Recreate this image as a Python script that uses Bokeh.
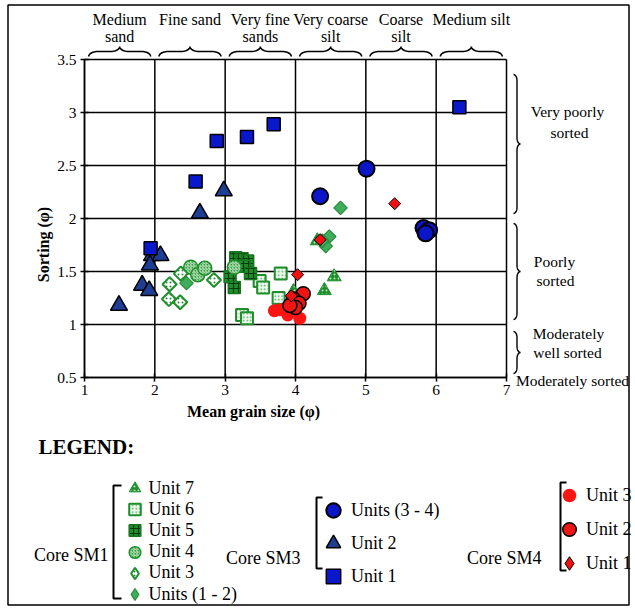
import numpy as np
from bokeh.plotting import figure
from bokeh.models import (Range1d, FixedTicker, NumeralTickFormatter, Label,
                          PolyAnnotation, Legend, LegendItem)
from bokeh.embed import file_html
from bokeh.resources import INLINE

# ---------------- data: mean grain size (phi) vs sorting (phi) ----------------
sm1_u7_x = [3.97, 4.41, 4.55, 4.31]
sm1_u7_y = [1.31, 1.32, 1.45, 1.79]
sm1_u6_x = [3.79, 3.49, 3.54, 3.76, 3.24, 3.31]
sm1_u6_y = [1.48, 1.41, 1.35, 1.25, 1.09, 1.06]
sm1_u5_x = [3.15, 3.24, 3.32, 3.27, 3.36, 3.07, 3.13]
sm1_u5_y = [1.63, 1.62, 1.60, 1.55, 1.48, 1.45, 1.35]
sm1_u4_x = [2.51, 2.61, 2.71, 3.13]
sm1_u4_y = [1.54, 1.47, 1.53, 1.54]
sm1_u3_x = [2.37, 2.21, 2.20, 2.36, 2.84]
sm1_u3_y = [1.48, 1.38, 1.24, 1.21, 1.42]
sm1_u12_x = [2.45, 4.64, 4.48, 4.43, 4.38]
sm1_u12_y = [1.39, 2.10, 1.83, 1.74, 1.79]

sm3_u34_x = [4.35, 5.01, 5.82, 5.90, 5.85]
sm3_u34_y = [2.21, 2.47, 1.91, 1.89, 1.86]
sm3_u2_x = [2.98, 2.64, 1.96, 2.08, 1.93, 1.82, 1.92, 1.49]
sm3_u2_y = [2.26, 2.05, 1.65, 1.65, 1.56, 1.37, 1.32, 1.18]
sm3_u1_x = [2.88, 3.31, 3.69, 6.33, 2.58, 1.94]
sm3_u1_y = [2.73, 2.77, 2.89, 3.05, 2.35, 1.72]

sm4_u3_x = [3.70, 3.78, 3.89, 4.06]
sm4_u3_y = [1.13, 1.14, 1.09, 1.06]
sm4_u2_x = [4.11, 3.97, 4.05, 4.00, 3.92]
sm4_u2_y = [1.29, 1.24, 1.20, 1.16, 1.18]
sm4_u1_x = [5.41, 4.35, 4.03, 3.94]
sm4_u1_y = [2.14, 1.80, 1.47, 1.27]

x_ticks = [1, 2, 3, 4, 5, 6, 7]
y_ticks = [0.5, 1, 1.5, 2, 2.5, 3, 3.5]
grain_classes = [["Medium", "sand"], ["Fine sand"], ["Very fine", "sands"],
                 ["Very coarse", "silt"], ["Coarse", "silt"], ["Medium silt"]]
sorting_classes = [["Very poorly", "sorted"], ["Poorly", "sorted"],
                   ["Moderately", "well sorted"], ["Moderately sorted"]]

# ---------------- layout constants (page pixels) ----------------
W, H = 635, 608
PL, PR, PT, PB = 84, 506, 59, 377          # plot box edges on the page
XMIN, XMAX = x_ticks[0], x_ticks[-1]
YMIN, YMAX = y_ticks[0], y_ticks[-1]
PXU = (PR - PL) / (XMAX - XMIN)
PYU = (PB - PT) / (YMAX - YMIN)

p = figure(width=W, height=H,
           x_range=Range1d(XMIN - PL / PXU, XMIN + (W - PL) / PXU),
           y_range=Range1d(YMIN - (H - PB) / PYU, YMIN + PB / PYU),
           output_backend="svg", toolbar_location=None,
           min_border=0, min_border_left=0, min_border_right=0,
           min_border_top=0, min_border_bottom=0)
p.background_fill_color = "white"
p.border_fill_color = "white"
p.outline_line_color = None
p.grid.visible = False

p.xaxis.ticker = FixedTicker(ticks=x_ticks)
p.yaxis.ticker = FixedTicker(ticks=y_ticks)
p.yaxis.formatter = NumeralTickFormatter(format="0.[0]")
p.xaxis.fixed_location = YMIN
p.yaxis.fixed_location = XMIN
p.xaxis.bounds = (XMIN, XMAX)
p.yaxis.bounds = (YMIN, YMAX)
for ax in (p.xaxis[0], p.yaxis[0]):
    ax.axis_line_color = "black"
    ax.axis_line_width = 1.5
    ax.major_tick_in = 4
    ax.major_tick_out = 4
    ax.major_tick_line_color = "black"
    ax.major_tick_line_width = 1.5
    ax.minor_tick_line_color = None
    ax.major_label_text_font = "Liberation Serif"
    ax.major_label_text_font_size = "15.5px"
    ax.major_label_text_color = "black"
p.xaxis.major_label_standoff = 3
p.yaxis.major_label_standoff = 4

# grid lines of the plot box, from the tick arrays
p.segment(x0=x_ticks, y0=[YMIN] * len(x_ticks), x1=x_ticks, y1=[YMAX] * len(x_ticks),
          line_color="black", line_width=1.5)
p.segment(x0=[XMIN] * len(y_ticks), y0=y_ticks, x1=[XMAX] * len(y_ticks), y1=y_ticks,
          line_color="black", line_width=1.5)

# ---------------- series ----------------
G = "#1f8f2c"
u7_style = dict(fill_color=G, line_color=G, hatch_pattern="dot", hatch_color="#bfe3bf",
                hatch_scale=4, hatch_weight=1)
u6_style = dict(fill_color="#eef8ee", line_color=G, line_width=2, hatch_pattern="dot",
                hatch_color="#4fae5a", hatch_scale=3.5, hatch_weight=1)
u5_style = dict(fill_color=G, line_color="#17761f", line_width=1.5, hatch_pattern="cross",
                hatch_color="#0b3a10", hatch_scale=5, hatch_weight=1.2)
u4_style = dict(fill_color="#38a043", line_color=G, line_width=1.5,
                hatch_pattern="right_diagonal_line", hatch_color="#c6e6c6", hatch_scale=3,
                hatch_weight=1)
u3_style = dict(fill_color="white", line_color=G, line_width=2, hatch_pattern="dot",
                hatch_color=G, hatch_scale=4, hatch_weight=1.2)
u12_style = dict(fill_color="#3fae5c", line_color="#2a8c3c", line_width=1.2)
s41_style = dict(fill_color="#f01010", line_color="black", line_width=1)

r_u7 = p.scatter(sm1_u7_x, sm1_u7_y, marker="triangle", size=14, **u7_style)
r_u6 = p.scatter(sm1_u6_x, sm1_u6_y, marker="square", size=12, **u6_style)
r_u5 = p.scatter(sm1_u5_x, sm1_u5_y, marker="square", size=12, **u5_style)
r_u4 = p.scatter(sm1_u4_x, sm1_u4_y, marker="circle", size=14, **u4_style)
r_u3 = p.scatter(sm1_u3_x, sm1_u3_y, marker="square", angle=np.pi / 4, size=10, **u3_style)
r_u12 = p.scatter(sm1_u12_x, sm1_u12_y, marker="square", angle=np.pi / 4, size=9.5, **u12_style)

r_s3_34 = p.scatter(sm3_u34_x, sm3_u34_y, marker="circle", size=16, fill_color="#0a16c8",
                    line_color="black", line_width=2)
r_s3_2 = p.scatter(sm3_u2_x, sm3_u2_y, marker="triangle", size=17, fill_color="#1d3e93",
                   line_color="black", line_width=1.5)
r_s3_1 = p.scatter(sm3_u1_x, sm3_u1_y, marker="square", size=13, fill_color="#0a18cc",
                   line_color="black", line_width=1.5)

r_s4_3 = p.scatter(sm4_u3_x, sm4_u3_y, marker="circle", size=13, fill_color="#ff1414", line_color=None)
r_s4_2 = p.scatter(sm4_u2_x, sm4_u2_y, marker="circle", size=14, fill_color="#f01515",
                   line_color="black", line_width=1.5)
r_s4_1 = p.scatter(sm4_u1_x, sm4_u1_y, marker="square", angle=np.pi / 4, size=8.5, **s41_style)

# legend-only keys for the diamond series (legend keys are drawn unrotated);
# a single NaN point keeps them invisible in the plot
k_u3 = p.scatter(x=[np.nan], y=[np.nan], marker="diamond", **u3_style)
k_u12 = p.scatter(x=[np.nan], y=[np.nan], marker="diamond", **u12_style)
k_s41 = p.scatter(x=[np.nan], y=[np.nan], marker="diamond", **s41_style)


# ---------------- annotation helpers (page pixel positions) ----------------
def txt(text, X, Y, size="16px", bold=False, align="center", angle=0.0, xdata=None):
    if xdata is None:
        xv, xu = X, "screen"
    else:
        xv, xu = xdata, "data"
    p.add_layout(Label(x=xv, x_units=xu, y=H - Y, y_units="screen", text=text,
                       text_font="Liberation Serif", text_font_size=size,
                       text_font_style="bold" if bold else "normal", text_align=align,
                       text_baseline="middle", text_color="black", angle=angle))


def line(xs_abs, ys_abs, width=1.5, closed=False):
    xs = [float(x) for x in xs_abs]
    ys = [H - float(y) for y in ys_abs]
    if not closed:
        xs = xs + xs[::-1]
        ys = ys + ys[::-1]
    p.add_layout(PolyAnnotation(xs=xs, ys=ys, xs_units="screen", ys_units="screen",
                                fill_color=None, fill_alpha=0, line_color="black",
                                line_alpha=1.0, line_width=width))


def brace(p0, p1, e, t, r, n=12):
    d = 1.0 if p1 > p0 else -1.0
    half = (t - e) / 2.0
    pm = (p0 + p1) / 2.0
    a = np.linspace(np.pi, np.pi / 2, n)
    u1 = p0 + d * r + d * r * np.cos(a)
    v1 = e + half * np.sin(a)
    b = np.linspace(-np.pi / 2, 0, n)
    u2 = pm - d * r + d * r * np.cos(b)
    v2 = t + half * np.sin(b)
    u = np.concatenate([u1, u2])
    v = np.concatenate([v1, v2])
    return (np.concatenate([u, (2 * pm - u)[::-1]]).tolist(),
            np.concatenate([v, v[::-1]]).tolist())


# outer frame of the whole graphic
line([7.5, 628.5, 628.5, 7.5], [4.5, 4.5, 604.5, 604.5], width=1.5, closed=True)

# grain-size classes on top
for i, lines in enumerate(grain_classes):
    xc = x_ticks[i] + 0.5
    txt(lines[0], 0, 19, xdata=xc)
    if len(lines) == 2:
        txt(lines[1], 0, 36, xdata=xc)
    xa = PL + (x_ticks[i] + 0.06 - XMIN) * PXU
    xb = PL + (x_ticks[i] + 0.94 - XMIN) * PXU
    u, v = brace(xa, xb, 56, 46, 9)
    line(u, v, width=1.6)

# sorting classes on the right
txt(sorting_classes[0][0], 567, 111, size="15.5px")
txt(sorting_classes[0][1], 569, 132, size="15.5px")
txt(sorting_classes[1][0], 554, 261, size="15.5px")
txt(sorting_classes[1][1], 555, 280, size="15.5px")
txt(sorting_classes[2][0], 568, 333, size="15.5px")
txt(sorting_classes[2][1], 567, 352, size="15.5px")
txt(sorting_classes[3][0], 572, 380, size="15.5px")
for (ya, yb) in [(74, 213), (223, 319), (331, 373)]:
    u, v = brace(ya, yb, 513, 520, 6)
    line(v, u, width=1.4)

# axis titles
txt("Sorting (\u03c6)", 43, 244, size="16px", bold=True, angle=np.pi / 2)
txt("Mean grain size (\u03c6)", 253, 411, size="16px", bold=True)

# legend block
txt("LEGEND:", 38, 446, size="21px", bold=True, align="left")
txt("Core SM1", 108, 554, size="18px", align="right")
txt("Core SM3", 300, 557, size="18px", align="right")
txt("Core SM4", 541, 557, size="18px", align="right")
line([121, 113, 113, 121], [485, 485, 598, 598], width=2)
line([322, 316, 316, 322], [497, 497, 568, 568], width=2)
line([566, 560, 560, 566], [482, 482, 570, 570], width=2)


def legend_row(label, rend, cx, cy, gw):
    gh = 40
    left = cx - gw / 2.0
    lg = Legend(items=[LegendItem(label=label, renderers=[rend])],
                location=(left, H - (cy + gh / 2.0)), orientation="vertical",
                glyph_width=gw, glyph_height=gh, label_height=gh, label_standoff=0,
                padding=0, margin=0, spacing=0,
                label_text_font="Liberation Serif", label_text_font_size="18px",
                label_text_color="black", border_line_color=None, background_fill_alpha=0)
    p.add_layout(lg, "center")


sm1_rows = [("Unit 7", r_u7), ("Unit 6", r_u6), ("Unit 5", r_u5),
            ("Unit 4", r_u4), ("Unit 3", k_u3), ("Units (1 - 2)", k_u12)]
for k, (lab, rend) in enumerate(sm1_rows):
    legend_row(lab, rend, 134, 488 + k * 21.2, 29)

sm3_rows = [("Units (3 - 4)", r_s3_34), ("Unit 2", r_s3_2), ("Unit 1", r_s3_1)]
for k, (lab, rend) in enumerate(sm3_rows):
    legend_row(lab, rend, 333, 510 + k * 33, 36)

sm4_rows = [("Unit 3", r_s4_3), ("Unit 2", r_s4_2), ("Unit 1", k_s41)]
for k, (lab, rend) in enumerate(sm4_rows):
    legend_row(lab, rend, 569, 495 + k * 34, 34)

open("out.html", "w").write(file_html(p, INLINE))
